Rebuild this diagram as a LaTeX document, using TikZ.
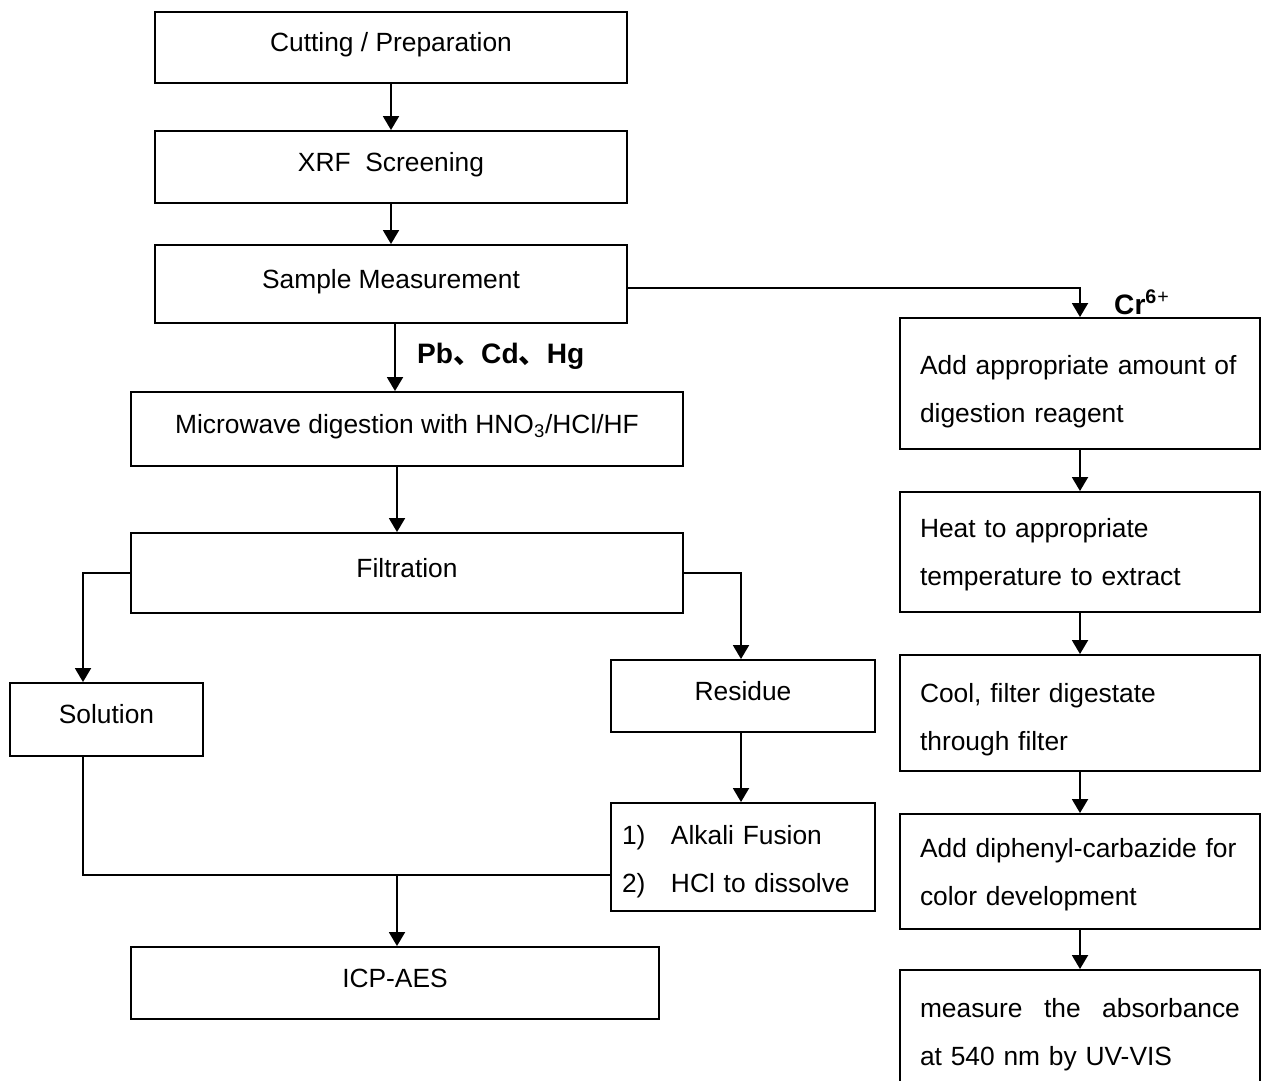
\documentclass[tikz,border=0pt]{standalone}
\usepackage{fontspec}
\setmainfont{Liberation Sans}
\newfontfamily\cjk{Noto Sans CJK SC}
\usetikzlibrary{arrows.meta}

\begin{document}
\begin{tikzpicture}[
        x=0.02cm, y=-0.02cm,
        every node/.style={font=\fontsize{15}{27.3}\selectfont},
        block/.style={rectangle, draw, line width=1.1pt, text centered},
        single/.style={block, text height=0.38cm, text depth=0.22cm},
        wide/.style={single, minimum width=9.44cm},
        stepbox/.style={block, minimum width=7.2cm, text width=6.4cm, inner xsep=0.4cm, align=left},
        push/.style={execute at begin node={\rule{0pt}{#1}}},
        arrow/.style={-{Triangle[length=0.28cm, width=0.32cm]}, line width=1.1pt},
        link/.style={line width=1.1pt},
        tag/.style={anchor=west, font=\fontsize{16}{18}\selectfont\bfseries}
    ]
        \useasboundingbox (0,0) rectangle (1265,1080);

        % main column
        \node[wide, minimum height=1.42cm] (cut) at (391,47.5) {Cutting / Preparation};
        \node[wide, minimum height=1.44cm] (xrf) at (391,167) {XRF\ \ Screening};
        \node[wide, minimum height=1.56cm] (meas) at (391,284) {Sample Measurement};
        \node[single, minimum width=11.04cm, minimum height=1.48cm] (micro) at (407,429) {Microwave digestion with HNO\textsubscript{3}/HCl/HF};
        \node[single, minimum width=11.04cm, minimum height=1.6cm] (filt) at (407,573) {Filtration};
        \node[single, minimum width=3.86cm, minimum height=1.46cm] (sol) at (106.5,719.5) {Solution};
        \node[single, minimum width=5.28cm, minimum height=1.44cm] (res) at (743,696) {Residue};
        \node[block, minimum width=5.28cm, minimum height=2.16cm, text width=4.84cm, inner xsep=0.22cm, align=left, push=0.585cm] (alk) at (743,857)
            {\makebox[0.98cm][l]{1)}Alkali Fusion\\\makebox[0.98cm][l]{2)}HCl to dissolve};
        \node[single, minimum width=10.56cm, minimum height=1.44cm] (icp) at (395,983) {ICP-AES};

        % Cr(VI) column
        \node[stepbox, minimum height=2.62cm, push=0.705cm] (add) at (1080,383.5) {Add appropriate amount of\\digestion reagent};
        \node[stepbox, minimum height=2.4cm, push=0.505cm] (heat) at (1080,552) {Heat to appropriate\\temperature to extract};
        \node[stepbox, minimum height=2.32cm, push=0.665cm] (cool) at (1080,713) {Cool, filter digestate\\through filter};
        \node[stepbox, minimum height=2.3cm, push=0.505cm] (dpc) at (1080,871.5) {Add diphenyl-carbazide for\\color development};
        \node[stepbox, minimum height=2.6cm] (uv) at (1080,1035) {measure\hfill the\hfill absorbance\\at 540 nm by UV-VIS};

        % labels
        \node[tag] (metals) at (411,356) {Pb{\cjk 、}Cd{\cjk 、}Hg};
        \node[tag] (cr) at (1108,302) {Cr\textsuperscript{6}{\mdseries\textsuperscript{+}}};

        \draw[arrow] (cut) -- (xrf);
        \draw[arrow] (xrf) -- (meas);
        \draw[arrow] ([xshift=0.08cm]meas.south) -- ([xshift=0.08cm]meas.south |- micro.north);
        \draw[arrow] ([xshift=-0.2cm]micro.south) -- ([xshift=-0.2cm]filt.north);
        \draw[arrow] (filt.west) -| ([xshift=-0.47cm]sol.north);
        \draw[arrow] (filt.east) -| ([xshift=-0.04cm]res.north);
        \draw[arrow] ([xshift=-0.04cm]res.south) -- ([xshift=-0.04cm]res.south |- alk.north);
        \draw[link] ([xshift=-0.47cm]sol.south) |- ([yshift=-0.36cm]alk.west);
        \coordinate (merge) at (397,875);
        \draw[arrow] (merge) -- (merge |- icp.north);
        \draw[arrow] ([yshift=-0.08cm]meas.east) -| (add.north);
        \draw[arrow] (add) -- (heat);
        \draw[arrow] (heat) -- (cool);
        \draw[arrow] (cool) -- (dpc);
        \draw[arrow] (dpc) -- (uv);
    \end{tikzpicture}
\end{document}
